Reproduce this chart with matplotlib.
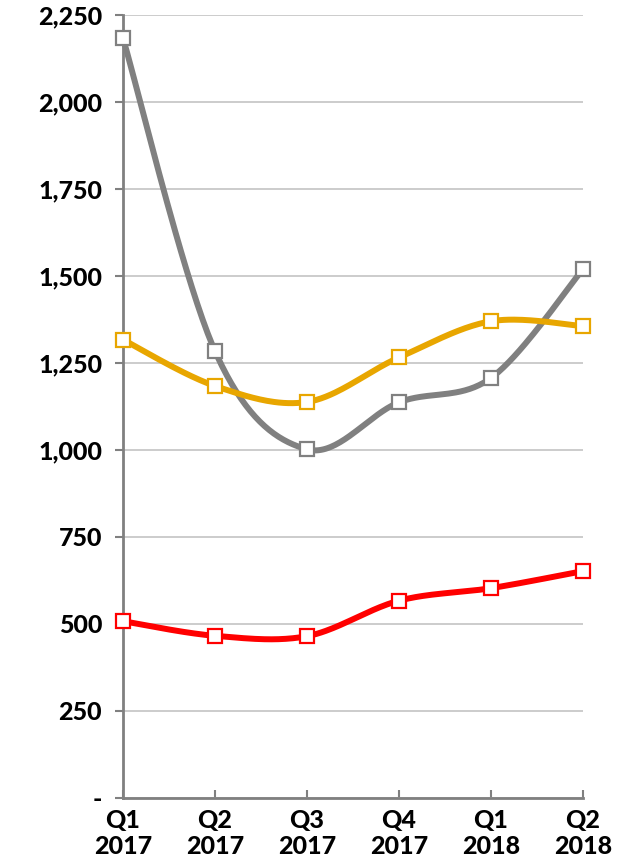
import matplotlib.pyplot as plt
from matplotlib.ticker import FuncFormatter
import numpy as np

plt.rcParams['font.family'] = ['Lato', 'DejaVu Sans']

quarters = ['Q1\n2017', 'Q2\n2017', 'Q3\n2017', 'Q4\n2017', 'Q1\n2018', 'Q2\n2018']
gray_vals = [2184, 1284, 1002, 1137, 1207, 1520]
orange_vals = [1317, 1184, 1138, 1266, 1370, 1356]
red_vals = [508, 466, 465, 567, 603, 652]


def smooth(y, n=40):
    # excel-like smoothed line (catmull-rom bezier)
    y = np.asarray(y, float)
    x = np.arange(len(y), dtype=float)
    xs, ys = [], []
    for i in range(len(y) - 1):
        i0 = max(i - 1, 0)
        i3 = min(i + 2, len(y) - 1)
        p0 = np.array([x[i], y[i]])
        p3 = np.array([x[i + 1], y[i + 1]])
        c1 = p0 + (np.array([x[i + 1], y[i + 1]]) - np.array([x[i0], y[i0]])) / 6
        c2 = p3 - (np.array([x[i3], y[i3]]) - np.array([x[i], y[i]])) / 6
        t = np.linspace(0, 1, n)[:, None]
        pts = (1 - t) ** 3 * p0 + 3 * (1 - t) ** 2 * t * c1 + 3 * (1 - t) * t ** 2 * c2 + t ** 3 * p3
        xs.extend(pts[:, 0])
        ys.extend(pts[:, 1])
    return xs, ys


fig = plt.figure(figsize=(6.29, 8.67), dpi=100)
ax = fig.add_axes([0.1955, 0.0796, 0.7315, 0.9031])

for vals, col in [(gray_vals, '#808080'), (orange_vals, '#E8A600'), (red_vals, '#FF0000')]:
    sx, sy = smooth(vals)
    ax.plot(sx, sy, color=col, lw=4.3, solid_capstyle='round', zorder=3, clip_on=False)
    ax.plot(range(len(vals)), vals, ls='none', marker='s', ms=10, mfc='white',
            mec=col, mew=1.6, zorder=4, clip_on=False)

ax.set_xlim(0, len(quarters) - 1)
ax.set_ylim(0, 2250)
ax.set_yticks(np.arange(0, 2251, 250))
ax.yaxis.set_major_formatter(FuncFormatter(lambda v, p: '-' if v == 0 else f'{int(v):,}'))
ax.set_xticks(range(len(quarters)))
ax.set_xticklabels(quarters, linespacing=1.15)

ax.grid(axis='y', color='#C8C8C8', lw=1.3, zorder=0)
ax.set_axisbelow(True)
for s in ['top', 'right']:
    ax.spines[s].set_visible(False)
for s in ['left', 'bottom']:
    ax.spines[s].set_color('#808080')
    ax.spines[s].set_linewidth(2)
ax.tick_params(axis='y', direction='out', length=6, width=1.5, color='#808080',
               labelsize=18, pad=9)
ax.tick_params(axis='x', direction='in', length=6, width=1.5, color='#808080',
               labelsize=18, pad=8)
for lab in ax.get_xticklabels() + ax.get_yticklabels():
    lab.set_fontweight('black')

fig.savefig('out.png', dpi=100)
